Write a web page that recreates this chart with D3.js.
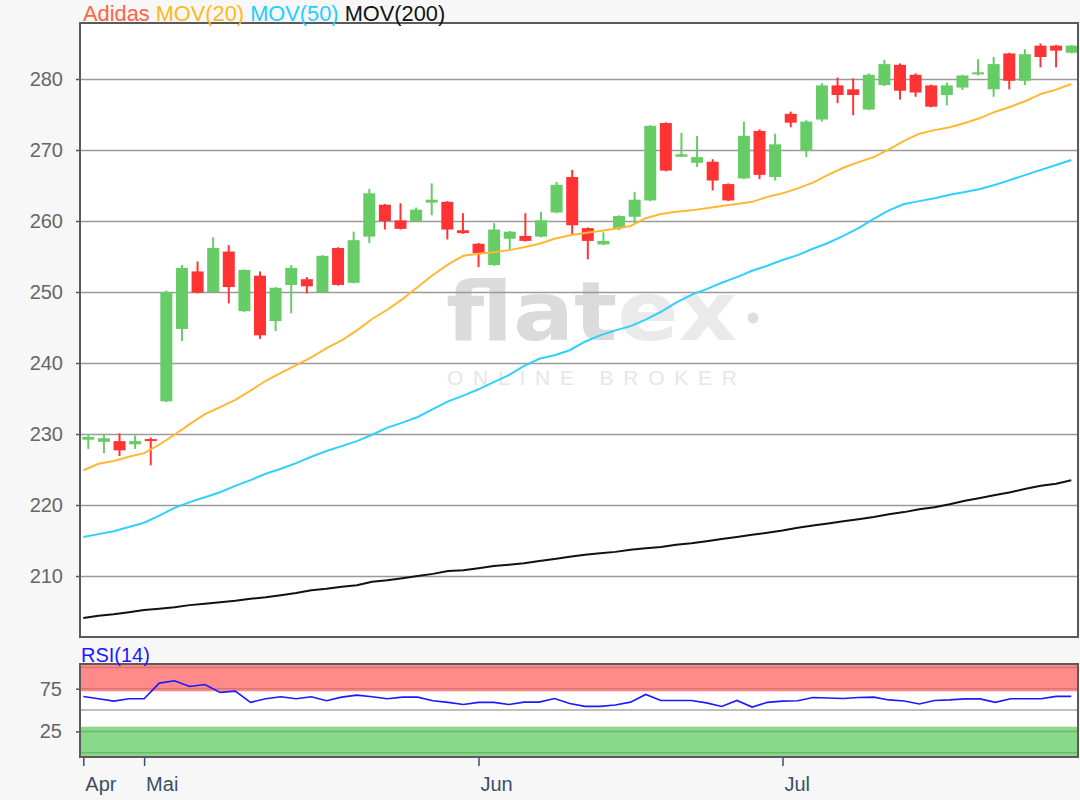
<!DOCTYPE html>
<html>
<head>
<meta charset="utf-8">
<script src="https://cdn.jsdelivr.net/npm/d3@7"></script>
<style>
  body { margin: 0; background: #f7f7f7; }
  svg { display: block; font-family: 'Liberation Sans', Arial, sans-serif; }
  .axis path.domain { display: none; }
  .y-axis text { fill: #666; font-size: 20px; }
  .y-axis line { stroke: #555; stroke-width: 1.5; }
  .grid line { stroke: #9a9a9a; stroke-width: 1.5; }
  .grid path { display: none; }
  .x-axis text { fill: #3b5066; font-size: 20px; }
  .x-axis line { stroke: #3b5066; stroke-width: 1.5; }
</style>
</head>
<body>
<div id="chart"></div>
<script>
// Candles (Adidas, daily)
const open  = [229.2, 228.9, 229.0, 228.55, 229.15, 234.6, 244.8, 252.9, 250.0, 255.7,
               247.3, 252.3, 245.9, 251.0, 251.8, 250.0, 256.2, 251.3, 257.8, 262.3,
               260.1, 260.0, 262.6, 262.7, 258.7, 256.8, 253.8, 257.5, 257.9, 257.8,
               261.2, 266.2, 259.0, 256.7, 259.0, 260.6, 262.9, 273.8, 269.05, 268.2,
               268.35, 265.2, 266.0, 272.7, 266.2, 275.1, 269.9, 274.3, 279.1, 278.55,
               275.7, 279.15, 282.0, 280.6, 279.1, 277.75, 278.8, 280.6, 278.55, 283.6,
               279.75, 284.7, 284.7, 283.7]
const high  = [230.0, 229.9, 230.1, 229.8, 229.5, 250.2, 253.8, 254.3, 257.7, 256.6,
               253.2, 252.9, 250.7, 253.8, 252.1, 255.2, 256.3, 258.5, 264.5, 262.4,
               262.5, 261.9, 265.3, 262.8, 261.1, 256.9, 259.7, 258.6, 261.1, 261.3,
               265.5, 267.2, 259.1, 258.4, 260.8, 264.1, 273.5, 273.9, 272.4, 272.0,
               268.7, 265.3, 274.0, 272.9, 272.3, 275.4, 274.2, 279.4, 280.2, 280.1,
               280.8, 282.7, 282.2, 280.8, 279.2, 279.5, 280.6, 282.8, 283.1, 283.7,
               284.2, 285.0, 284.8, 284.8]
const low   = [227.9, 227.3, 226.9, 227.9, 225.6, 234.5, 243.1, 249.8, 249.9, 248.4,
               247.2, 243.4, 244.5, 247.0, 249.8, 249.9, 250.9, 251.2, 256.9, 258.8,
               258.8, 259.9, 260.8, 257.4, 258.2, 253.5, 253.7, 255.9, 257.1, 257.7,
               261.1, 258.0, 254.6, 256.6, 258.7, 259.7, 262.8, 267.0, 269.0, 267.6,
               264.3, 262.8, 265.9, 265.9, 265.7, 273.2, 269.0, 274.0, 276.6, 274.9,
               275.6, 279.0, 277.1, 277.5, 276.0, 276.3, 278.45, 280.5, 277.5, 278.55,
               279.15, 281.65, 281.65, 283.6]
const close = [229.6, 229.4, 227.7, 229.0, 228.9, 250.0, 253.4, 249.9, 256.2, 250.7,
               253.1, 243.9, 250.6, 253.4, 250.8, 255.1, 251.0, 257.3, 263.9, 260.0,
               258.9, 261.6, 263.0, 258.8, 258.3, 255.5, 258.8, 258.5, 257.2, 260.1,
               265.1, 259.4, 257.2, 257.2, 260.7, 263.0, 273.4, 267.1, 269.4, 269.0,
               265.7, 262.9, 272.0, 266.5, 270.8, 273.85, 274.0, 279.1, 277.75, 277.75,
               280.6, 282.1, 278.35, 278.1, 276.1, 279.1, 280.5, 280.8, 282.1, 279.75,
               283.5, 283.1, 284.0, 284.7]

// Indicators, one value per trading day on the date axis
const mov20  = [224.9, 225.8, 226.2, 226.8, 227.3, 228.5, 229.9, 231.4, 232.8, 233.8,
                234.8, 236.1, 237.5, 238.6, 239.7, 240.8, 242.1, 243.2, 244.6, 246.2,
                247.5, 249.0, 250.7, 252.4, 253.9, 255.1, 255.4, 255.6, 255.9, 256.3,
                256.8, 257.5, 258.0, 258.3, 258.6, 258.9, 259.3, 260.4, 261.0, 261.3,
                261.5, 261.8, 262.1, 262.4, 262.7, 263.4, 263.9, 264.6, 265.4, 266.5,
                267.5, 268.3, 269.0, 270.1, 271.3, 272.3, 272.8, 273.2, 273.8, 274.5,
                275.4, 276.1, 276.9, 277.9, 278.5, 279.3]
const mov50  = [215.5, 215.9, 216.3, 216.9, 217.5, 218.5, 219.6, 220.4, 221.1, 221.8,
                222.7, 223.5, 224.4, 225.1, 225.9, 226.8, 227.6, 228.3, 229.0, 229.9,
                230.9, 231.6, 232.4, 233.5, 234.6, 235.4, 236.3, 237.3, 238.3, 239.6,
                240.6, 241.1, 241.8, 243.0, 243.9, 244.6, 245.2, 246.1, 247.2, 248.5,
                249.6, 250.4, 251.3, 252.1, 253.0, 253.7, 254.5, 255.2, 256.1, 256.9,
                257.9, 259.0, 260.3, 261.5, 262.4, 262.8, 263.2, 263.7, 264.1, 264.5,
                265.1, 265.8, 266.5, 267.2, 267.9, 268.6]
const mov200 = [204.1, 204.4, 204.6, 204.9, 205.2, 205.4, 205.6, 205.9, 206.1, 206.3,
                206.5, 206.8, 207.0, 207.3, 207.6, 208.0, 208.2, 208.5, 208.7, 209.2,
                209.4, 209.7, 210.0, 210.3, 210.7, 210.8, 211.1, 211.4, 211.6, 211.8,
                212.1, 212.4, 212.7, 213.0, 213.2, 213.4, 213.7, 213.9, 214.1, 214.4,
                214.6, 214.9, 215.2, 215.5, 215.8, 216.1, 216.4, 216.8, 217.1, 217.4,
                217.7, 218.0, 218.3, 218.7, 219.0, 219.4, 219.7, 220.1, 220.6, 221.0,
                221.4, 221.8, 222.3, 222.7, 223.0, 223.5]
const rsi    = [66.0, 63.3, 60.5, 63.3, 63.3, 81.6, 84.4, 77.7, 80.0, 70.7,
                72.2, 59.0, 63.3, 65.6, 63.3, 65.6, 61.0, 65.2, 67.5, 65.6,
                63.3, 65.2, 65.2, 61.0, 59.0, 56.6, 59.0, 59.0, 56.6, 59.3,
                59.3, 63.6, 57.8, 54.3, 54.3, 56.0, 59.3, 68.3, 61.3, 61.3,
                61.3, 58.4, 54.3, 61.3, 53.5, 59.0, 60.5, 61.0, 64.8, 64.2,
                63.6, 64.8, 65.2, 61.9, 60.7, 57.2, 61.3, 61.9, 63.1, 63.1,
                59.0, 63.3, 63.3, 63.3, 66.0, 66.0]

// Axis ticks
const priceTicks = [210, 220, 230, 240, 250, 260, 270, 280]
const rsiTicks = [25, 75]
const monthTickDays = [0, 4, 26, 46]
const monthLabels = ['Apr', 'Mai', 'Jun', 'Jul']

// Dimensions
const width = 1080
const height = 800
const main = { left: 80, right: 1078, top: 23, bottom: 637 }
const rsiBox = { left: 80, right: 1078, top: 664, bottom: 757 }

const svg = d3.select('#chart')
  .append('svg')
  .attr('width', width)
  .attr('height', height)

svg.append('rect')
  .attr('width', width)
  .attr('height', height)
  .attr('fill', '#f7f7f7')

// Scales
const yPrice = d3.scaleLinear().domain([201.41, 287.89]).range([main.bottom, main.top])
const xCandle = d3.scaleLinear().domain([0, open.length - 1]).range([88.3, 1071.7])
const xDay = d3.scaleLinear().domain([0, rsi.length - 1]).range([83.3, 1071.3])
const yRsi = d3.scaleLinear().domain([-5, 104]).range([rsiBox.bottom, rsiBox.top])

//===========================================================================
// Main panel

svg.append('clipPath')
  .attr('id', 'main_clip')
  .append('rect')
  .attr('x', main.left)
  .attr('y', main.top)
  .attr('width', main.right - main.left)
  .attr('height', main.bottom - main.top)

svg.append('rect')
  .attr('x', main.left)
  .attr('y', main.top)
  .attr('width', main.right - main.left)
  .attr('height', main.bottom - main.top)
  .attr('fill', '#fff')

// Watermark
const mark = svg.append('g')
mark.append('text')
  .attr('x', 446)
  .attr('y', 340)
  .attr('font-family', "'DejaVu Sans', sans-serif")
  .attr('font-weight', 'bold')
  .attr('font-size', 82)
  .attr('textLength', 291)
  .attr('lengthAdjust', 'spacingAndGlyphs')
  .selectAll('tspan')
  .data([['flat', '#dbdbdb'], ['ex', '#eaeaea']])
  .join('tspan')
  .attr('fill', d => d[1])
  .text(d => d[0])
mark.append('circle')
  .attr('cx', 753)
  .attr('cy', 318)
  .attr('r', 5.5)
  .attr('fill', '#dedede')
mark.append('text')
  .attr('x', 447)
  .attr('y', 385)
  .attr('font-size', 21)
  .attr('fill', '#e6e6e6')
  .attr('textLength', 290)
  .attr('lengthAdjust', 'spacing')
  .text('ONLINE BROKER')

// Gridlines
svg.append('g')
  .attr('class', 'grid')
  .attr('transform', `translate(${main.left},0)`)
  .call(d3.axisLeft(yPrice).tickValues(priceTicks).tickSize(-(main.right - main.left)).tickFormat(''))

// Candles
const candles = svg.append('g')
  .attr('clip-path', 'url(#main_clip)')
  .selectAll('g')
  .data(open.map((o, i) => ({ i, o, h: high[i], l: low[i], c: close[i] })))
  .join('g')
  .attr('fill', d => d.c >= d.o ? '#66cc66' : '#ff3333')
  .attr('stroke', d => d.c >= d.o ? '#66cc66' : '#ff3333')

candles.append('line')
  .attr('x1', d => xCandle(d.i))
  .attr('x2', d => xCandle(d.i))
  .attr('y1', d => yPrice(d.h))
  .attr('y2', d => yPrice(d.l))
  .attr('stroke-width', 2)

candles.append('rect')
  .attr('x', d => xCandle(d.i) - 6)
  .attr('width', 12)
  .attr('y', d => yPrice(Math.max(d.o, d.c)) - (Math.abs(yPrice(d.o) - yPrice(d.c)) < 2 ? 1 : 0))
  .attr('height', d => Math.max(2, Math.abs(yPrice(d.o) - yPrice(d.c))))
  .attr('stroke', 'none')

// Moving averages
const maLine = d3.line()
  .x((d, i) => xDay(i))
  .y(d => yPrice(d))

const maSeries = [
  { values: mov200, color: '#111' },
  { values: mov50, color: '#2fd0ff' },
  { values: mov20, color: '#ffb833' }
]

svg.append('g')
  .attr('clip-path', 'url(#main_clip)')
  .selectAll('path')
  .data(maSeries)
  .join('path')
  .attr('fill', 'none')
  .attr('stroke', d => d.color)
  .attr('stroke-width', 2)
  .attr('d', d => maLine(d.values))

// Left axis - Price
svg.append('g')
  .attr('class', 'axis y-axis')
  .attr('transform', `translate(${main.left},0)`)
  .call(d3.axisLeft(yPrice).tickValues(priceTicks).tickSize(4).tickPadding(13))

// Border
svg.append('rect')
  .attr('x', main.left)
  .attr('y', main.top)
  .attr('width', main.right - main.left)
  .attr('height', main.bottom - main.top)
  .attr('fill', 'none')
  .attr('stroke', '#5a5a5a')
  .attr('stroke-width', 2)

// Legend
const legend = svg.append('text')
  .attr('x', 83)
  .attr('y', 20.5)
  .attr('font-size', 21.8)
legend.selectAll('tspan')
  .data([['Adidas', '#ff6446'], [' MOV(20)', '#ffb81c'], [' MOV(50)', '#1ecfff'], [' MOV(200)', '#111']])
  .join('tspan')
  .attr('fill', d => d[1])
  .text(d => d[0])

//===========================================================================
// RSI panel

svg.append('rect')
  .attr('x', rsiBox.left)
  .attr('y', rsiBox.top)
  .attr('width', rsiBox.right - rsiBox.left)
  .attr('height', rsiBox.bottom - rsiBox.top)
  .attr('fill', '#fff')

// Overbought / oversold zones
svg.append('rect')
  .attr('x', rsiBox.left)
  .attr('width', rsiBox.right - rsiBox.left)
  .attr('y', yRsi(104))
  .attr('height', yRsi(72) - yRsi(104))
  .attr('fill', '#ff8a8a')
svg.append('rect')
  .attr('x', rsiBox.left)
  .attr('width', rsiBox.right - rsiBox.left)
  .attr('y', yRsi(30.5))
  .attr('height', yRsi(-5) - yRsi(30.5))
  .attr('fill', '#8ad88a')

const zoneLines = [
  { v: 100, color: '#e07272' },
  { v: 75, color: '#e07272' },
  { v: 50, color: '#aaaaaa' },
  { v: 25, color: '#6cb86c' },
  { v: 0, color: '#6cb86c' }
]
svg.append('g')
  .selectAll('line')
  .data(zoneLines)
  .join('line')
  .attr('x1', rsiBox.left)
  .attr('x2', rsiBox.right)
  .attr('y1', d => yRsi(d.v))
  .attr('y2', d => yRsi(d.v))
  .attr('stroke', d => d.color)
  .attr('stroke-width', 1.5)

const rsiLine = d3.line()
  .x((d, i) => xDay(i))
  .y(d => yRsi(d))

svg.append('path')
  .datum(rsi)
  .attr('fill', 'none')
  .attr('stroke', '#1a1aff')
  .attr('stroke-width', 1.6)
  .attr('d', rsiLine)

svg.append('g')
  .attr('class', 'axis y-axis')
  .attr('transform', `translate(${rsiBox.left},0)`)
  .call(d3.axisLeft(yRsi).tickValues(rsiTicks).tickSize(4).tickPadding(14))

svg.append('rect')
  .attr('x', rsiBox.left)
  .attr('y', rsiBox.top)
  .attr('width', rsiBox.right - rsiBox.left)
  .attr('height', rsiBox.bottom - rsiBox.top)
  .attr('fill', 'none')
  .attr('stroke', '#5a5a5a')
  .attr('stroke-width', 2)

svg.append('text')
  .attr('x', 81)
  .attr('y', 662)
  .attr('font-size', 20)
  .attr('fill', '#1a1aff')
  .text('RSI(14)')

// Bottom axis - Date
const xAxis = svg.append('g')
  .attr('class', 'axis x-axis')
  .attr('transform', `translate(0,${rsiBox.bottom + 1})`)
  .call(d3.axisBottom(xDay)
    .tickValues(monthTickDays)
    .tickFormat((d, i) => monthLabels[i])
    .tickSize(8)
    .tickPadding(11))
xAxis.selectAll('text')
  .attr('text-anchor', 'start')
  .attr('dx', 1.5)
</script>
</body>
</html>
